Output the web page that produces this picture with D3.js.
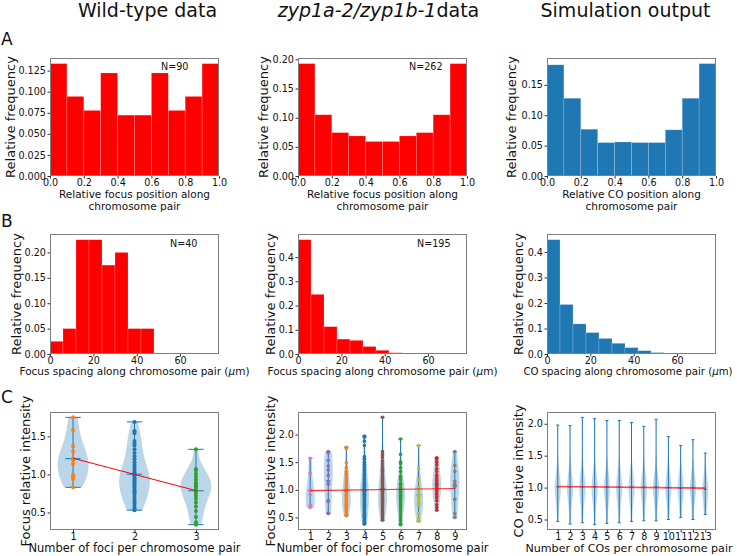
<!DOCTYPE html>
<html><head><meta charset="utf-8">
<script src="https://cdn.jsdelivr.net/npm/d3@7/dist/d3.min.js"></script>
<style>
body{margin:0;background:#fff}
svg text{font-family:"DejaVu Sans",sans-serif}
</style>
</head><body>
<svg id="chart" width="737" height="556"></svg>
<script>
// ---------------- DATA ----------------
const columnTitles = ["Wild-type data", "zyp1a-2/zyp1b-1", "Simulation output"];
const rowLetters = ["A", "B", "C"];

// Row A : relative position histograms (bin edges + relative frequency)
const posEdges = [0, 0.1, 0.2, 0.3, 0.4, 0.5, 0.6, 0.7, 0.8, 0.9, 1.0];
const wtPosFreq  = [0.1333, 0.0944, 0.0778, 0.1222, 0.0722, 0.0722, 0.1222, 0.0778, 0.0944, 0.1333];
const zypPosFreq = [0.1927, 0.1050, 0.0744, 0.0687, 0.0592, 0.0592, 0.0687, 0.0744, 0.1050, 0.1927];
const simPosFreq = [0.183, 0.128, 0.077, 0.055, 0.056, 0.055, 0.055, 0.076, 0.128, 0.185];
const posTicksX = [0, 0.2, 0.4, 0.6, 0.8, 1.0];
const wtPosTicksY = [0, 0.025, 0.05, 0.075, 0.1, 0.125];
const zypPosTicksY = [0, 0.05, 0.1, 0.15, 0.2];
const simPosTicksY = [0, 0.05, 0.1, 0.15];

// Row B : focus spacing histograms (µm)
const spacingEdges = [0, 6, 12, 18, 24, 30, 36, 42, 48, 54, 60];
const spacingMax = 78;
const wtSpacingFreq  = [0.025, 0.05, 0.225, 0.225, 0.175, 0.2, 0.05, 0.05];
const zypSpacingFreq = [0.4718, 0.2462, 0.1128, 0.0615, 0.0564, 0.0308, 0.0154, 0.0051];
const simSpacingFreq = [0.448, 0.194, 0.118, 0.084, 0.061, 0.042, 0.025, 0.013, 0.0055, 0.0015];
const spacingTicksX = [0, 20, 40, 60];
const wtSpacingTicksY = [0, 0.05, 0.1, 0.15, 0.2];
const zypSpacingTicksY = [0, 0.1, 0.2, 0.3, 0.4];
const simSpacingTicksY = [0, 0.1, 0.2, 0.3, 0.4];

const sampleSizes = ["N=90", "N=262", "N=40", "N=195"];

// Row C : relative intensity per number of foci (individual foci)
const wtIntensity = [
  [1.75, 1.58, 1.37, 1.30, 1.21, 1.19, 1.14, 1.00, 0.97, 0.94, 0.83],
  [1.69, 1.57, 1.56, 1.54, 1.44, 1.41, 1.38, 1.33, 1.28, 1.24, 1.20, 1.16, 1.13, 1.10, 1.07, 1.05, 1.03, 1.01, 0.99, 0.97,
   0.95, 0.93, 0.91, 0.90, 0.88, 0.86, 0.84, 0.82, 0.80, 0.78, 0.76, 0.74, 0.70, 0.66, 0.63, 0.61, 0.58, 0.55, 0.54, 0.53],
  [1.33, 1.07, 1.05, 1.01, 0.97, 0.93, 0.89, 0.88, 0.86, 0.84, 0.82, 0.79, 0.76, 0.72, 0.68, 0.63, 0.58, 0.52, 0.44, 0.37, 0.34]
];
const wtIntensityColors = ["#ff7f0e", "#1f77b4", "#2ca02c"];

const zypIntensity = [
  [1.57, 1.30, 1.00, 0.98, 0.91, 0.73, 0.70, 0.68],
  [1.69, 1.67, 1.53, 1.43, 1.36, 1.26, 1.15, 1.10, 0.80, 0.79, 0.58, 0.57],
  [1.77, 1.75, 1.49, 1.40, 1.33, 1.30, 1.27, 1.22, 1.18, 1.15, 1.12, 1.08, 1.05, 1.02, 1.00, 0.98, 0.96, 0.93,
   0.90, 0.88, 0.86, 0.84, 0.82, 0.80, 0.78, 0.76, 0.74, 0.72, 0.70, 0.68, 0.65, 0.62, 0.60, 0.57, 0.55, 0.53],
  [1.97, 1.95, 1.88, 1.80, 1.60, 1.57, 1.55, 1.50, 1.46, 1.42, 1.38, 1.35, 1.32, 1.29, 1.26, 1.23, 1.20, 1.18, 1.16, 1.14,
   1.12, 1.10, 1.08, 1.06, 1.04, 1.02, 1.01, 1.00, 0.99, 0.98, 0.97, 0.95, 0.93, 0.92, 0.90, 0.88, 0.87, 0.85, 0.84, 0.82,
   0.80, 0.79, 0.77, 0.75, 0.74, 0.72, 0.70, 0.68, 0.66, 0.64, 0.62, 0.60, 0.58, 0.56, 0.54, 0.52, 0.50, 0.48, 0.46, 0.44,
   0.42, 0.40, 0.39, 0.38],
  [2.31, 1.69, 1.66, 1.62, 1.58, 1.52, 1.47, 1.42, 1.37, 1.33, 1.29, 1.25, 1.21, 1.18, 1.15, 1.12, 1.09, 1.06, 1.03, 1.01,
   0.99, 0.97, 0.95, 0.93, 0.91, 0.89, 0.87, 0.85, 0.83, 0.81, 0.79, 0.77, 0.75, 0.73, 0.71, 0.69, 0.67, 0.65, 0.62, 0.59,
   0.56, 0.53, 0.50, 0.47, 0.45],
  [1.92, 1.64, 1.50, 1.47, 1.40, 1.33, 1.25, 1.22, 1.18, 1.12, 1.10, 1.08, 1.05, 1.02, 1.00, 0.98, 0.96, 0.94, 0.92, 0.90,
   0.88, 0.86, 0.84, 0.82, 0.80, 0.77, 0.74, 0.71, 0.68, 0.64, 0.60, 0.55, 0.50, 0.45, 0.40, 0.37],
  [1.80, 1.38, 1.18, 1.05, 0.97, 0.90, 0.88, 0.85, 0.80, 0.75, 0.72, 0.57, 0.48, 0.43],
  [1.58, 1.55, 1.50, 1.45, 1.38, 1.33, 1.27, 1.24, 1.20, 1.17, 1.14, 1.11, 1.08, 1.05, 1.02, 0.99, 0.96, 0.92, 0.88, 0.85,
   0.80, 0.73, 0.68, 0.63],
  [1.69, 1.44, 1.33, 1.15, 1.10, 1.05, 0.83, 0.57, 0.50]
];
const zypIntensityColors = ["#e377c2", "#9467bd", "#ff7f0e", "#1f77b4", "#8c564b", "#2ca02c", "#bcbd22", "#d62728", "#7f7f7f"];

// Simulation: representative quantile samples for each number of COs
const simIntensity = [
  [0.47, 0.58, 0.69, 0.77, 0.83, 0.87, 0.91, 0.94, 0.97, 1.00, 1.03, 1.06, 1.10, 1.14, 1.19, 1.26, 1.37, 1.98],
  [0.43, 0.58, 0.69, 0.77, 0.83, 0.87, 0.91, 0.94, 0.97, 1.00, 1.03, 1.06, 1.10, 1.14, 1.19, 1.26, 1.37, 1.97],
  [0.45, 0.57, 0.68, 0.76, 0.82, 0.87, 0.91, 0.94, 0.97, 1.00, 1.03, 1.06, 1.10, 1.14, 1.19, 1.26, 1.37, 2.10],
  [0.42, 0.57, 0.69, 0.77, 0.83, 0.87, 0.91, 0.94, 0.97, 1.00, 1.03, 1.06, 1.10, 1.14, 1.19, 1.26, 1.36, 2.08],
  [0.44, 0.58, 0.69, 0.77, 0.83, 0.87, 0.91, 0.94, 0.97, 1.00, 1.03, 1.06, 1.10, 1.14, 1.19, 1.26, 1.36, 2.05],
  [0.45, 0.58, 0.69, 0.77, 0.82, 0.87, 0.91, 0.94, 0.97, 1.00, 1.03, 1.06, 1.10, 1.14, 1.19, 1.26, 1.36, 2.05],
  [0.47, 0.58, 0.69, 0.77, 0.83, 0.87, 0.91, 0.94, 0.97, 1.00, 1.03, 1.06, 1.10, 1.14, 1.19, 1.26, 1.37, 2.02],
  [0.48, 0.59, 0.70, 0.77, 0.83, 0.87, 0.91, 0.94, 0.97, 1.00, 1.03, 1.06, 1.10, 1.14, 1.19, 1.26, 1.36, 1.96],
  [0.48, 0.58, 0.69, 0.77, 0.82, 0.87, 0.91, 0.94, 0.97, 1.00, 1.03, 1.06, 1.10, 1.14, 1.19, 1.26, 1.37, 2.07],
  [0.50, 0.60, 0.70, 0.77, 0.83, 0.87, 0.91, 0.94, 0.97, 1.00, 1.03, 1.06, 1.10, 1.14, 1.19, 1.26, 1.35, 1.80],
  [0.53, 0.61, 0.70, 0.77, 0.82, 0.86, 0.90, 0.93, 0.96, 0.99, 1.02, 1.05, 1.09, 1.13, 1.18, 1.25, 1.34, 1.66],
  [0.50, 0.60, 0.70, 0.77, 0.83, 0.87, 0.91, 0.94, 0.97, 1.00, 1.03, 1.06, 1.10, 1.14, 1.19, 1.26, 1.35, 1.75],
  [0.58, 0.63, 0.70, 0.76, 0.81, 0.85, 0.88, 0.91, 0.94, 0.97, 1.00, 1.03, 1.07, 1.11, 1.16, 1.23, 1.33, 1.54]
];
const intensityTicks3 = [0.5, 1.0, 1.5];
const intensityTicks4 = [0.5, 1.0, 1.5, 2.0];

// ---------------- LAYOUT ----------------
const svg = d3.select("#chart");
const colX = [50, 298, 547], colW = 169;
const rowY = [58, 234, 412], rowH = [118, 120, 118];
const INK = "#111";
const TICK_FS = 9.6;

function panelG(c, r) {
  return svg.append("g").attr("transform", `translate(${colX[c]},${rowY[r]})`);
}

function drawAxes(g, x, y, w, h, xt, xf, yt, yf) {
  const ax = g.append("g").attr("transform", `translate(0,${h})`)
    .call(d3.axisBottom(x).tickValues(xt).tickFormat(xf).tickSizeInner(2.5).tickSizeOuter(0).tickPadding(0.8));
  const ay = g.append("g")
    .call(d3.axisLeft(y).tickValues(yt).tickFormat(yf).tickSizeInner(2.5).tickSizeOuter(0).tickPadding(1.6));
  [ax, ay].forEach(a => {
    a.select(".domain").remove();
    a.selectAll("line").attr("stroke", "#333");
    a.selectAll("text").attr("font-size", TICK_FS).attr("fill", INK)
      .attr("font-family", '"DejaVu Sans",sans-serif');
  });
  g.append("rect").attr("x", 0.5).attr("y", 0.5).attr("width", w - 1).attr("height", h - 1)
    .attr("fill", "none").attr("stroke", "#7f7f7f").attr("stroke-width", 1);
}

function hist(c, r, edges, freq, xMax, color, xt, xf, yt, yf) {
  const g = panelG(c, r), w = colW, h = rowH[r];
  const x = d3.scaleLinear().domain([0, xMax]).range([0, w]);
  const y = d3.scaleLinear().domain([0, d3.max(freq) * 1.05]).range([h, 0]);
  g.selectAll("rect.bar").data(freq).join("rect").attr("class", "bar")
    .attr("x", (d, i) => x(edges[i]))
    .attr("width", (d, i) => x(edges[i + 1]) - x(edges[i]))
    .attr("y", d => y(d)).attr("height", d => h - y(d))
    .attr("fill", color).attr("stroke", "#fff").attr("stroke-opacity", 0.3).attr("stroke-width", 0.6);
  drawAxes(g, x, y, w, h, xt, xf, yt, yf);
  return g;
}

function kde(data, factor) {
  const n = data.length, sd = d3.deviation(data);
  const bw = sd * (factor == null ? Math.pow(n, -0.2) : factor);
  const lo = d3.min(data), hi = d3.max(data);
  return d3.range(100).map(i => {
    const v = lo + (hi - lo) * i / 99;
    return [v, d3.mean(data, d => Math.exp(-0.5 * ((v - d) / bw) ** 2))];
  });
}

function violins(c, r, groups, colors, xt, yt, opt) {
  const g = panelG(c, r), w = colW, h = rowH[r];
  const n = groups.length, widths = 0.5;
  const all = groups.flat();
  const lo = d3.min(all), hi = d3.max(all), pad = (hi - lo) * 0.05;
  const xr = (n + widths / 2) - (1 - widths / 2), xpad = xr * 0.05;
  const x = d3.scaleLinear().domain([1 - widths / 2 - xpad, n + widths / 2 + xpad]).range([0, w]);
  const y = d3.scaleLinear().domain([lo - pad, hi + pad]).range([h, 0]);
  const blue = "#1f77b4";
  groups.forEach((vals, i) => {
    const pos = i + 1;
    const dens = kde(vals, opt.bw);
    const dmax = d3.max(dens, d => d[1]);
    const k = (widths / 2) / dmax;
    const area = d3.area().x0(d => x(pos - d[1] * k)).x1(d => x(pos + d[1] * k)).y(d => y(d[0]));
    g.append("path").datum(dens).attr("d", area).attr("fill", blue).attr("fill-opacity", 0.3);
  });
  groups.forEach((vals, i) => {
    const pos = i + 1, cap = widths / 4;
    const mn = d3.min(vals), mx = d3.max(vals), mean = d3.mean(vals);
    g.append("line").attr("x1", x(pos)).attr("x2", x(pos)).attr("y1", y(mn)).attr("y2", y(mx))
      .attr("stroke", blue).attr("stroke-width", 1);
    [mn, mx, mean].forEach(v => {
      g.append("line").attr("x1", x(pos - cap)).attr("x2", x(pos + cap)).attr("y1", y(v)).attr("y2", y(v))
        .attr("stroke", blue).attr("stroke-width", 1);
    });
  });
  if (colors) {
    groups.forEach((vals, i) => {
      g.selectAll(null).data(vals).join("circle")
        .attr("cx", x(i + 1)).attr("cy", d => y(d)).attr("r", opt.r).attr("fill", colors[i]);
    });
  }
  // linear regression across all foci
  const pairs = groups.flatMap((vals, i) => vals.map(v => [i + 1, v]));
  const mxx = d3.mean(pairs, d => d[0]), myy = d3.mean(pairs, d => d[1]);
  const slope = d3.sum(pairs, d => (d[0] - mxx) * (d[1] - myy)) / d3.sum(pairs, d => (d[0] - mxx) ** 2);
  const fit = t => myy + slope * (t - mxx);
  g.append("line").attr("x1", x(1)).attr("x2", x(n)).attr("y1", y(fit(1))).attr("y2", y(fit(n)))
    .attr("stroke", "red").attr("stroke-width", opt.lw).attr("stroke-opacity", opt.lo);
  drawAxes(g, x, y, w, h, xt, d3.format("d"), yt, d3.format(".1f"));
  return g;
}

function text(x, y, s, size, anchor) {
  return svg.append("text").attr("x", x).attr("y", y).attr("font-size", size)
    .attr("text-anchor", anchor || "middle").attr("fill", INK).text(s);
}
function vtext(x, cy, s, size) {
  return svg.append("text").attr("transform", `translate(${x},${cy}) rotate(-90)`)
    .attr("font-size", size).attr("text-anchor", "middle").attr("fill", INK).text(s);
}

// ---------------- TITLES ----------------
text(147.5, 17, columnTitles[0], 19);
const t2 = svg.append("text").attr("x", 378.5).attr("y", 17).attr("font-size", 19)
  .attr("text-anchor", "middle").attr("fill", INK);
t2.append("tspan").attr("font-style", "italic").text(columnTitles[1]);
t2.append("tspan").text("data");
text(625.5, 17, columnTitles[2], 19);

text(1, 45, rowLetters[0], 17, "start");
text(1, 227, rowLetters[1], 17, "start");
text(1, 403, rowLetters[2], 17, "start");

// ---------------- ROW A ----------------
const red = "#ff0000", blue = "#1f77b4";
hist(0, 0, posEdges, wtPosFreq, 1, red, posTicksX, d3.format(".1f"), wtPosTicksY, d3.format(".3f"));
hist(1, 0, posEdges, zypPosFreq, 1, red, posTicksX, d3.format(".1f"), zypPosTicksY, d3.format(".2f"));
hist(2, 0, posEdges, simPosFreq, 1, blue, posTicksX, d3.format(".1f"), simPosTicksY, d3.format(".2f"));

// ---------------- ROW B ----------------
hist(0, 1, spacingEdges, wtSpacingFreq, spacingMax, red, spacingTicksX, d3.format("d"), wtSpacingTicksY, d3.format(".2f"));
hist(1, 1, spacingEdges, zypSpacingFreq, spacingMax, red, spacingTicksX, d3.format("d"), zypSpacingTicksY, d3.format(".1f"));
hist(2, 1, spacingEdges, simSpacingFreq, spacingMax, blue, spacingTicksX, d3.format("d"), simSpacingTicksY, d3.format(".1f"));

// N labels
text(colX[0] + 0.657 * colW, rowY[0] + 12, sampleSizes[0], TICK_FS, "start");
text(colX[1] + 0.657 * colW, rowY[0] + 12, sampleSizes[1], TICK_FS, "start");
text(colX[0] + 0.71 * colW, rowY[1] + 13, sampleSizes[2], TICK_FS, "start");
text(colX[1] + 0.704 * colW, rowY[1] + 13, sampleSizes[3], TICK_FS, "start");

// ---------------- ROW C ----------------
const ticks1to = n => d3.range(1, n + 1);
violins(0, 2, wtIntensity, wtIntensityColors, ticks1to(3), intensityTicks3, { r: 2, lw: 1, lo: 1 });
violins(1, 2, zypIntensity, zypIntensityColors, ticks1to(9), intensityTicks4, { r: 1.8, lw: 1.2, lo: 0.8 });
violins(2, 2, simIntensity, null, ticks1to(13), intensityTicks4, { bw: 0.35, lw: 1.6, lo: 0.7 });

// ---------------- AXIS LABELS ----------------
const cx = c => colX[c] + colW / 2;
const rowCY = r => rowY[r] + rowH[r] / 2;
const XL = 10.5, YL = 13;
// row A
text(cx(0), 197.5, "Relative focus position along", XL); text(cx(0), 209.5, "chromosome pair", XL);
text(cx(1), 197.5, "Relative focus position along", XL); text(cx(1), 209.5, "chromosome pair", XL);
text(cx(2), 197.5, "Relative CO position along", XL); text(cx(2), 209.5, "chromosome pair", XL);
vtext(15, rowCY(0), "Relative frequency", YL);
vtext(268, rowCY(0), "Relative frequency", YL);
vtext(516, rowCY(0), "Relative frequency", YL);
// row B
function spacingLabel(xc, prefix, size) {
  const t = text(xc, 375, prefix + " spacing along chromosome pair (", size);
  t.append("tspan").attr("font-style", "italic").text("\u03bc");
  t.append("tspan").text("m)");
}
spacingLabel(cx(0), "Focus", XL); spacingLabel(cx(1), "Focus", XL); spacingLabel(628, "CO", 10.2);
vtext(21, rowCY(1), "Relative frequency", YL);
vtext(275, rowCY(1), "Relative frequency", YL);
vtext(523, rowCY(1), "Relative frequency", YL);
// row C
text(cx(0), 552, "Number of foci per chromosome pair", 11.5);
text(cx(1), 552, "Number of foci per chromosome pair", 11.5);
text(629, 552, "Number of COs per chromosome pair", 11.1);
vtext(30, rowCY(2), "Focus relative intensity", YL);
vtext(275, rowCY(2), "Focus relative intensity", YL);
vtext(523, rowCY(2), "CO relative intensity", YL);
</script>
</body></html>
